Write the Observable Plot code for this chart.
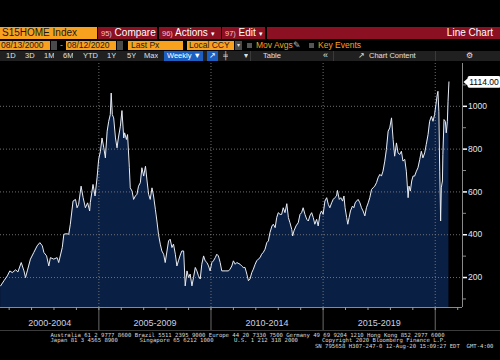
<!DOCTYPE html>
<html><head><meta charset="utf-8">
<script src="https://cdn.jsdelivr.net/npm/d3@7"></script>
<script src="https://cdn.jsdelivr.net/npm/@observablehq/plot@0.6"></script>
<style>
body{margin:0;background:#000;width:500px;height:360px;overflow:hidden;font-family:"Liberation Sans",Arial,sans-serif;}
#wrap{position:relative;width:500px;height:360px;background:#000;}
.b{position:absolute;box-sizing:border-box;white-space:nowrap;overflow:hidden;}
.r1{top:27px;height:12px;line-height:12px;font-size:10px;}
.r2{top:41px;height:8.5px;line-height:8.5px;font-size:8.5px;}
.r3{top:51px;height:9.5px;line-height:9.5px;font-size:7.5px;color:#e0e0e0;}
.org{background:#f8a11e;color:#1b1b1b;}
.red{background:#8b1022;color:#fff;}
.n{font-size:7.5px;color:#f4c3c9;}
.ot{color:#f8a11e;}
.ic{background:#4a4a4a;}
.ft{position:absolute;left:0;font-family:"DejaVu Sans Mono",monospace;font-size:5.6px;line-height:6px;color:#d8d8d8;white-space:pre;}
#chart{position:absolute;left:0;top:60px;}
</style></head>
<body><div id="wrap">
<div class="b r1 org" style="left:0;width:97px;padding-left:2px">S15HOME Index</div>
<div class="b r1 red" style="left:98px;width:59px;padding-left:3px"><span class="n">95)</span> Compare</div>
<div class="b r1 red" style="left:159px;width:62px;padding-left:3px"><span class="n">96)</span> Actions <span style="font-size:7px">▾</span></div>
<div class="b r1 red" style="left:222px;width:43px;padding-left:3px"><span class="n">97)</span> Edit <span style="font-size:7px">▾</span></div>
<div class="b r1 red" style="left:267px;width:233px;text-align:right;padding-right:7px">Line Chart</div>

<div class="b r2 org" style="left:0;width:50px;padding-left:1px">08/13/2000</div>
<div class="b r2 ic" style="left:51px;width:6px"></div>
<div class="b r2 ot" style="left:60px;width:5px">-</div>
<div class="b r2 org" style="left:66px;width:50px;padding-left:1px">08/12/2020</div>
<div class="b r2 ic" style="left:117px;width:6px"></div>
<div class="b r2 org" style="left:128px;width:55px;padding-left:3px">Last Px</div>
<div class="b r2 org" style="left:187px;width:47px;padding-left:2px">Local CCY</div>
<div class="b r2 ic" style="left:235px;width:7px;color:#ddd;font-size:6px;text-align:center">▾</div>
<div class="b" style="left:247px;top:43px;width:5px;height:5px;background:#555"></div>
<div class="b r2 ot" style="left:256px;width:40px">Mov Avgs</div>
<div class="b r2" style="left:293px;width:8px;color:#bbb">✎</div>
<div class="b" style="left:309px;top:43px;width:5px;height:5px;background:#555"></div>
<div class="b r2 ot" style="left:318px;width:50px">Key Events</div>

<div class="b" style="left:0;top:51px;width:500px;height:9.5px;background:#202020"></div>
<div class="b r3" style="left:6px">1D</div>
<div class="b r3" style="left:25px">3D</div>
<div class="b r3" style="left:44px">1M</div>
<div class="b r3" style="left:63px">6M</div>
<div class="b r3" style="left:83px">YTD</div>
<div class="b r3" style="left:107px">1Y</div>
<div class="b r3" style="left:127px">5Y</div>
<div class="b r3" style="left:144px">Max</div>
<div class="b r3" style="left:164px;width:39px;background:#1d5fc0;color:#fff;padding-left:3px">Weekly ▼</div>
<div class="b r3" style="left:207px;width:11px;background:#1d5fc0;color:#fff;text-align:center">↗</div>
<div class="b r3" style="left:223px">╪</div>
<div class="b r3" style="left:244px">▾</div>
<div class="b" style="left:250px;top:51px;width:1px;height:9.5px;background:#3a3a3a"></div>
<div class="b r3" style="left:263px">Table</div>
<div class="b r3" style="left:323px;font-size:9px">«</div>
<div class="b" style="left:333px;top:51px;width:1px;height:9.5px;background:#3a3a3a"></div>
<div class="b r3" style="left:358px">↗</div>
<div class="b r3" style="left:369px">Chart Content</div>
<div class="b" style="left:435px;top:51px;width:1px;height:9.5px;background:#3a3a3a"></div>
<div class="b r3" style="left:466px;font-size:8px">⚙</div>

<div id="chart"></div>
<div class="b" style="left:0;top:330px;width:500px;height:1px;background:#3c3c3c"></div>
<div class="ft" style="top:331.5px;left:50.5px">Australia 61 2 9777 8600 Brazil 5511 2395 9000 Europe 44 20 7330 7500 Germany 49 69 9204 1210 Hong Kong 852 2977 6000</div>
<div class="ft" style="top:336.5px;left:50.5px">Japan 81 3 4565 8900</div>
<div class="ft" style="top:336.5px;left:139.5px">Singapore 65 6212 1000</div>
<div class="ft" style="top:336.5px;left:234px">U.S. 1 212 318 2000</div>
<div class="ft" style="top:336.5px;left:322px">Copyright 2020 Bloomberg Finance L.P.</div>
<div class="ft" style="top:343px;left:315px">SN 795658 H307-247-0 12-Aug-20 15:09:27 EDT  GMT-4:00</div>
</div>
<script>
// weekly sample dates as decimal years, and S15HOME index values
const weekYear = [
2000.62,2000.77,2000.92,2001.03,2001.14,2001.29,2001.39,2001.54,2001.66,2001.73,2001.81,2001.95,
2002.10,2002.25,2002.37,2002.48,2002.55,2002.67,2002.77,2002.84,2002.99,2003.14,2003.21,2003.37,
2003.44,2003.56,2003.66,2003.73,2003.85,2003.96,2004.03,2004.10,2004.21,2004.30,2004.40,2004.50,
2004.59,2004.62,2004.74,2004.83,2004.92,2004.99,2005.07,2005.14,2005.22,2005.29,2005.37,2005.44,
2005.51,2005.55,2005.60,2005.66,2005.74,2005.81,2005.87,2005.96,2006.03,2006.11,2006.15,2006.23,
2006.28,2006.36,2006.40,2006.48,2006.55,2006.63,2006.70,2006.77,2006.85,2006.92,2007.00,2007.08,
2007.15,2007.22,2007.29,2007.37,2007.44,2007.52,2007.59,2007.66,2007.74,2007.81,2007.89,2007.96,
2008.04,2008.11,2008.18,2008.26,2008.33,2008.41,2008.48,2008.55,2008.63,2008.70,2008.78,2008.85,
2008.93,2009.00,2009.07,2009.15,2009.22,2009.30,2009.37,2009.44,2009.52,2009.59,2009.67,2009.74,
2009.82,2009.89,2009.96,2010.04,2010.11,2010.19,2010.26,2010.33,2010.41,2010.48,2010.63,2010.78,
2010.85,2010.93,2011.00,2011.08,2011.15,2011.30,2011.37,2011.44,2011.52,2011.60,2011.67,2011.74,
2011.82,2011.89,2011.97,2012.04,2012.11,2012.19,2012.26,2012.33,2012.41,2012.49,2012.56,2012.63,
2012.72,2012.78,2012.86,2012.93,2013.00,2013.08,2013.15,2013.22,2013.30,2013.38,2013.45,2013.52,
2013.60,2013.64,2013.70,2013.79,2013.89,2013.97,2014.04,2014.11,2014.19,2014.27,2014.34,2014.41,
2014.49,2014.56,2014.63,2014.71,2014.78,2014.86,2014.93,2015.00,2015.08,2015.16,2015.23,2015.30,
2015.38,2015.45,2015.52,2015.60,2015.64,2015.72,2015.79,2015.87,2015.93,2015.98,2016.05,2016.10,
2016.16,2016.22,2016.31,2016.37,2016.43,2016.49,2016.56,2016.64,2016.71,2016.78,2016.86,2016.93,
2017.01,2017.08,2017.16,2017.23,2017.30,2017.38,2017.45,2017.53,2017.60,2017.67,2017.75,2017.82,
2017.90,2017.97,2018.05,2018.12,2018.19,2018.27,2018.34,2018.42,2018.49,2018.56,2018.64,2018.71,
2018.79,2018.83,2018.89,2018.95,2019.01,2019.08,2019.16,2019.23,2019.31,2019.38,2019.45,2019.53,
2019.60,2019.68,2019.75,2019.83,2019.90,2019.97,2020.03,2020.08,2020.12,2020.16,2020.20,2020.24,
2020.27,2020.32,2020.34,2020.39,2020.45,2020.49,2020.54,2020.57,2020.61
];
const indexValue = [
161,185,208,231,223,236,226,270,231,200,231,286,
317,348,363,348,317,301,254,293,286,293,270,340,
402,405,402,449,557,565,526,542,627,573,526,549,
511,550,635,581,666,752,790,852,806,759,884,930,
961,1062,961,946,852,806,852,907,980,852,876,845,
868,713,619,604,565,581,589,627,643,713,674,720,
651,589,565,619,581,519,464,402,356,324,309,270,
324,371,379,340,356,309,254,278,305,324,324,161,
231,200,216,161,200,247,231,208,193,262,301,278,
270,254,231,270,278,293,309,301,270,231,231,231,
239,254,278,262,270,262,254,247,247,216,185,193,
223,239,262,278,286,293,309,317,332,363,371,410,
441,449,433,480,503,495,495,526,503,545,480,456,
425,394,418,441,456,495,503,526,495,472,464,488,
503,480,449,472,441,495,511,495,557,573,542,526,
549,565,573,581,607,565,573,557,581,526,480,449,
480,511,534,526,549,557,565,549,526,511,488,526,
549,573,612,619,627,643,666,682,674,697,744,798,
884,899,946,845,767,829,782,775,790,744,752,697,
573,627,604,651,674,674,697,713,752,790,759,782,
822,868,930,953,930,961,1008,1047,1070,977,697,464,
619,651,775,938,930,876,930,1023,1114
];
const yLabelTicks = [200, 400, 600, 800, 1000];
const yMinorTicks = [100, 300, 500, 700, 900, 1100];
const periodLabels = ["2000-2004", "2005-2009", "2010-2014", "2015-2019"];
const periodStartYears = [2000, 2005, 2010, 2015];
const gridYears = [2005, 2010, 2015, 2020];
const lastPxLabel = "1114.00";

const startDate = new Date(Date.UTC(2000, 7, 13));
const endDate = new Date(Date.UTC(2021, 2, 20));
const yMin = 60, yMax = 1200;

function dec2date(t) {
  const y = Math.floor(t);
  const a = Date.UTC(y, 0, 1), b = Date.UTC(y + 1, 0, 1);
  return new Date(a + (t - y) * (b - a));
}
const jan = y => new Date(Date.UTC(y, 0, 1));
const data = weekYear.map((t, i) => ({date: dec2date(t), value: indexValue[i]}));
const last = data[data.length - 1];
const yearTicks = d3.range(2001, 2022).map(jan);
const gridDates = gridYears.map(jan);
const periodMid = periodStartYears.map(y => {
  const a = Math.max(+jan(y), +startDate), b = +jan(y + 5);
  return new Date((a + b) / 2);
});

const calloutSymbol = {
  draw(ctx) {
    ctx.moveTo(0, 0);
    ctx.lineTo(4, -3.5);
    ctx.lineTo(4, -3.5);
    ctx.arcTo(4, -5.8, 6, -5.8, 2);
    ctx.lineTo(35, -5.8);
    ctx.arcTo(37, -5.8, 37, -3.8, 2);
    ctx.lineTo(37, 3.8);
    ctx.arcTo(37, 5.8, 35, 5.8, 2);
    ctx.lineTo(6, 5.8);
    ctx.arcTo(4, 5.8, 4, 3.8, 2);
    ctx.lineTo(4, 3.5);
    ctx.closePath();
  }
};

const chart = Plot.plot({
  width: 500, height: 270,
  marginLeft: 0, marginRight: 38, marginTop: 3, marginBottom: 23,
  style: {background: "transparent", color: "#dcdcdc", fontFamily: "'Liberation Sans', Arial, sans-serif", overflow: "visible"},
  x: {type: "utc", domain: [startDate, endDate], label: null},
  y: {domain: [yMin, yMax], label: null},
  marks: [
    Plot.areaY(data, {x: "date", y1: yMin, y2: "value", fill: "#0a1f44", curve: "linear"}),
    Plot.gridY(yLabelTicks, {stroke: "#7a7a7a", strokeOpacity: 0.9, strokeDasharray: "1,2"}),
    Plot.gridX(gridDates, {stroke: "#7a7a7a", strokeOpacity: 0.9, strokeDasharray: "1,2"}),
    Plot.lineY(data, {x: "date", y: "value", stroke: "#e8ecf2", strokeWidth: 1}),
    Plot.ruleY([yMin], {stroke: "#8a8a8a"}),
    Plot.ruleX([endDate], {stroke: "#8a8a8a"}),
    Plot.ruleX(gridDates, {stroke: "#6a6a6a", insetTop: 244, insetBottom: -23}),
    Plot.axisX(yearTicks, {anchor: "bottom", tickSize: 3, tickFormat: () => "", stroke: "#9a9a9a", label: null}),
    Plot.text(periodLabels, {x: (d, i) => periodMid[i], text: d => d, frameAnchor: "bottom", dy: 18.5, fill: "#c9d1e3", fontSize: 9}),
    Plot.axisY(yMinorTicks, {anchor: "right", tickSize: 3, tickFormat: () => "", stroke: "#8a8a8a", label: null}),
    Plot.axisY(yLabelTicks, {anchor: "right", tickSize: 4, tickPadding: 1.5, strokeWidth: 1.5, stroke: "#ffffff", fill: "#e4e4e4", fontSize: 8.5, tickFormat: d => String(d), label: null}),
    Plot.dot([last], {y: "value", frameAnchor: "right", dx: 1, symbol: calloutSymbol, r: 5, fill: "#ffffff", stroke: "none"}),
    Plot.text([last], {y: "value", frameAnchor: "right", dx: 21.5, text: () => lastPxLabel, fill: "#000", fontSize: 8.5, textAnchor: "middle"})
  ]
});
document.getElementById("chart").append(chart);
</script>
</body></html>
